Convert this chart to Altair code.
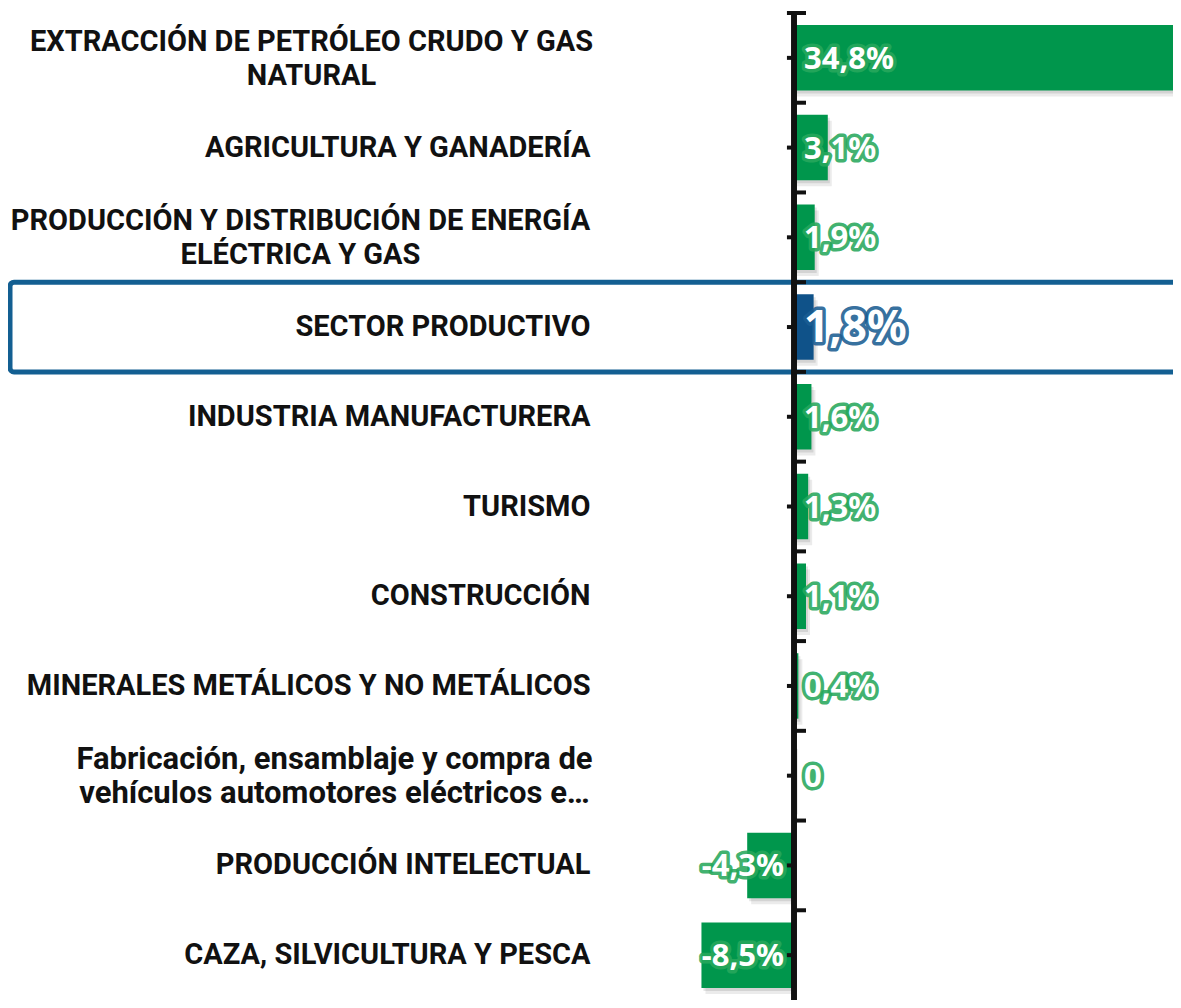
import altair as alt
import pandas as pd

categories = [
    "EXTRACCIÓN DE PETRÓLEO CRUDO Y GAS|NATURAL",
    "AGRICULTURA Y GANADERÍA",
    "PRODUCCIÓN Y DISTRIBUCIÓN DE ENERGÍA|ELÉCTRICA Y GAS",
    "SECTOR PRODUCTIVO",
    "INDUSTRIA MANUFACTURERA",
    "TURISMO",
    "CONSTRUCCIÓN",
    "MINERALES METÁLICOS Y NO METÁLICOS ",
    "Fabricación, ensamblaje y compra de|vehículos automotores eléctricos e…",
    "PRODUCCIÓN INTELECTUAL",
    "CAZA, SILVICULTURA Y PESCA",
]
values = [34.8, 3.1, 1.9, 1.8, 1.6, 1.3, 1.1, 0.4, 0.0, -4.3, -8.5]
labels = ["34,8%", "3,1%", "1,9%", "1,8%", "1,6%", "1,3%", "1,1%", "0,4%", "0", "-4,3%", "-8,5%"]
highlight = "SECTOR PRODUCTIVO"

df = pd.DataFrame({"cat": categories, "val": values, "lbl": labels})
df["hl"] = df["cat"] == highlight

GREEN = "#00964c"
HALO_GREEN = "#27a85c"
BLUE = "#0f5289"
HALO_BLUE = "#1b5d92"
BOX = "#135f92"
INK = "#111111"

pad_cond = [
    {"test": f"datum.value == '{categories[0]}'", "value": 287},
    {"test": f"datum.value == '{categories[2]}'", "value": 298},
    {"test": f"datum.value == '{categories[8]}'", "value": 264},
]
multi = "indexof(datum.value, '|') >= 0"

y_axis = alt.Axis(
    title=None, domain=False, ticks=False, tickSize=0,
    labelExpr="split(datum.label, '|')",
    labelFont="Roboto", labelFontWeight="bold",
    labelFontSize={"condition": {"test": f"datum.value == '{categories[8]}'", "value": 31}, "value": 29},
    labelColor=INK, labelLineHeight=34, labelLimit=800,
    labelAlign={"condition": {"test": multi, "value": "center"}, "value": "right"},
    labelOffset={"condition": {"test": multi, "value": -16}, "value": 0},
    labelPadding={"condition": pad_cond, "value": 8},
)

y = alt.Y("cat:N", sort=categories, axis=y_axis,
          scale=alt.Scale(paddingInner=0, paddingOuter=0))
y_edge = alt.Y("cat:N", sort=categories, axis=y_axis, bandPosition=0)
x = alt.X("val:Q", scale=alt.Scale(domain=[-18, 34.8], nice=False, zero=False), axis=None)

base = alt.Chart(df)

shadow1 = base.mark_bar(height={"band": 0.73}, color="#000000", opacity=0.10,
                        xOffset=2, yOffset=3).encode(x=x, x2=alt.datum(0), y=y)
shadow2 = base.mark_bar(height={"band": 0.73}, color="#000000", opacity=0.08,
                        xOffset=4, yOffset=6).encode(x=x, x2=alt.datum(0), y=y)
bars = base.mark_bar(height={"band": 0.73}).encode(
    x=x, x2=alt.datum(0), y=y,
    color=alt.condition("datum.hl", alt.value(BLUE), alt.value(GREEN)),
)

zero_line = base.mark_rule(color=INK, strokeWidth=4.5).encode(x=alt.datum(0))
center_ticks = base.mark_rule(color=INK, strokeWidth=4).encode(
    x=alt.datum(-0.65), x2=alt.datum(0), y=y)
edge_ticks = base.mark_rule(color=INK, strokeWidth=4).encode(
    x=alt.datum(0), x2=alt.datum(1.1), y=y_edge)
top_tick = base.transform_filter(alt.datum.cat == categories[0]).mark_rule(
    color=INK, strokeWidth=4).encode(x=alt.datum(-0.65), x2=alt.datum(0), y=y_edge)

box = base.transform_filter("datum.hl").mark_rect(
    fillOpacity=0, stroke=BOX, strokeWidth=5, cornerRadius=4, clip=False
).encode(y=y, x=alt.value(-588), x2=alt.value(600))

size_enc = alt.condition("datum.hl", alt.value(44), alt.value(31))
halo_enc = alt.condition("datum.hl", alt.value(HALO_BLUE), alt.value(HALO_GREEN))

pos = base.transform_filter("datum.val >= 0")
neg = base.transform_filter("datum.val < 0")

FONT = "Noto Sans"

def text_layers(src, align, dx):
    halo = src.mark_text(align=align, baseline="middle", dx=dx, dy=2, font=FONT,
                         fontWeight="bold", fill="white", strokeWidth=7,
                         strokeOpacity=0.9, strokeJoin="round").encode(
        x=alt.datum(0), y=y, text="lbl:N", size=size_enc, stroke=halo_enc)
    core = src.mark_text(align=align, baseline="middle", dx=dx, dy=2, font=FONT,
                         fontWeight="bold", fill="white").encode(
        x=alt.datum(0), y=y, text="lbl:N", size=size_enc)
    return [halo, core]

layers = [box, shadow1, shadow2, bars, zero_line, center_ticks, edge_ticks, top_tick]
layers += text_layers(pos, "left", 10)
layers += text_layers(neg, "right", -10)

chart = alt.layer(*layers).properties(
    width=575, height=987,
    autosize=alt.AutoSizeParams(type="none"),
    padding={"left": 590, "top": 5, "right": 0, "bottom": 0},
    background="white",
).configure_view(stroke=None)

chart.save("out.html", embed_options={"renderer": "svg", "actions": False})
